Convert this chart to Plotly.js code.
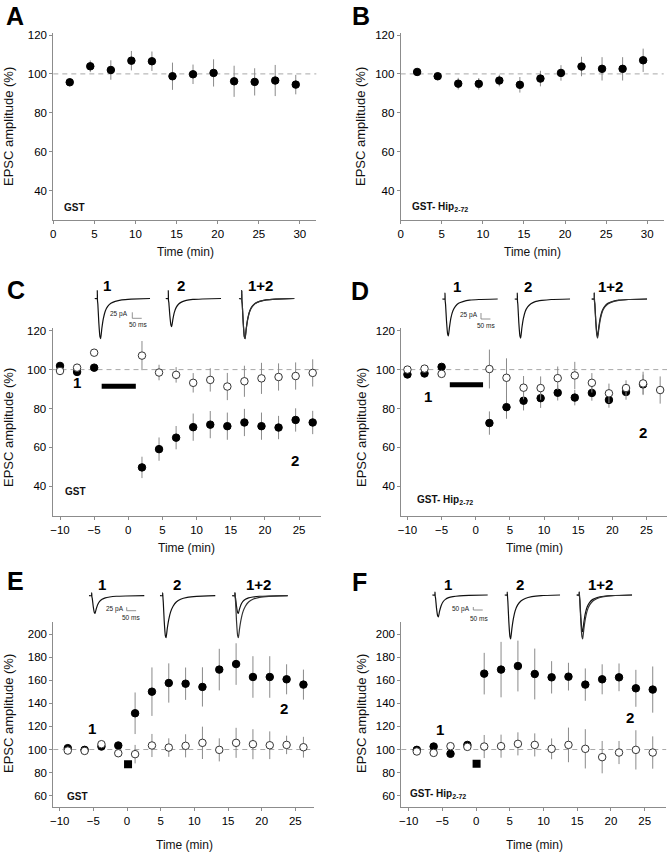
<!DOCTYPE html>
<html><head><meta charset="utf-8">
<script src="https://cdn.plot.ly/plotly-3.0.1.min.js"></script>
<style>html,body{margin:0;padding:0;background:#fff}#chart{width:667px;height:852px}</style>
</head><body><div id="chart"></div>
<script>
// ---------------- DATA ----------------
// Panels A, B
const timeAB = [2, 4.5, 7, 9.5, 12, 14.5, 17, 19.5, 22, 24.5, 27, 29.5];
const ampA   = [95.7, 103.9, 102, 106.8, 106.5, 98.8, 99.8, 100.5, 96.2, 95.9, 96.6, 94.5];
const errA   = [2, 3, 5, 5, 5, 7, 5, 7, 8, 7, 8, 5];
const ampB   = [101, 98.8, 95, 94.9, 96.6, 94.4, 97.6, 100.5, 103.8, 102.6, 102.6, 107];
const errB   = [1.5, 1.5, 3, 3, 3, 4, 4, 4, 5, 6, 6, 6];

// Panels C, D
const timeCD      = [-10, -7.5, -5, 2, 4.5, 7, 9.5, 12, 14.5, 17, 19.5, 22, 24.5, 27];
const ampCFilled  = [101.9, 98.8, 101, 49.7, 59.1, 65, 70.4, 71.7, 70.9, 72.8, 70.9, 70.2, 74.1, 72.8];
const errCFilled  = [1, 1, 1, 5.5, 6, 6, 7, 7, 7, 7, 7, 6, 6, 6];
const ampCOpen    = [99.3, 101, 108.7, 107.2, 98.5, 97.3, 93.2, 94.7, 91.3, 94, 95.5, 96.2, 96.7, 98.3];
const errCOpen    = [1, 1, 1, 7.5, 4, 4, 5, 6, 7, 8, 8, 7, 7, 7];
const timeDFilled = [-10, -7.5, -5, 2, 4.5, 7, 9.5, 12, 14.5, 17, 19.5, 22, 24.5];
const ampDFilled  = [97.5, 98, 101.4, 72.5, 80.7, 84, 85.3, 88.1, 85.6, 88, 84.4, 88.5, 92.4];
const errDFilled  = [1, 1, 1, 6, 6, 5, 5, 4, 4, 4, 4, 4, 5];
const ampDOpen    = [100, 100.5, 97.8, 100.3, 95.8, 90.7, 90.5, 95.6, 97, 93.2, 87.8, 90.5, 92.9, 89.5];
const errDOpen    = [1, 1, 1, 10, 10, 6, 6, 6, 7, 5, 5, 4, 6, 7];
const drugTimeC = [-3.9, 1.1], drugLevelC = [91.4, 91.4];
const drugTimeD = [-3.8, 1.07], drugLevelD = [92.2, 92.2];

// Panels E, F
const timeEF     = [-8.8, -6.3, -3.8, -1.3, 1.2, 3.7, 6.2, 8.7, 11.2, 13.7, 16.2, 18.7, 21.2, 23.7, 26.2];
const ampEFilled = [101.2, 99.7, 102.6, 103.5, 131.4, 150.1, 157.6, 157, 154.2, 169.2, 174, 162.8, 162.8, 160.8, 156.2];
const errEFilled = [1.5, 1.5, 1.5, 1.5, 18, 21, 17, 14, 17, 18, 18, 18, 18, 13, 13];
const ampEOpen   = [99.1, 98.8, 104.6, 96.8, 96, 103.5, 101.7, 103.2, 105.8, 99.7, 105.8, 104.6, 103.7, 104, 102];
const errEOpen   = [1.5, 1.5, 1.5, 1.5, 8, 10, 8, 10, 14, 10, 13, 13, 12, 8, 9];
const ampFFilled = [99.7, 102.6, 96.3, 104, 165.7, 169.2, 172.3, 165.4, 162.5, 163.1, 156.2, 160.8, 162.5, 153, 151.9];
const errFFilled = [3, 1.5, 1.5, 1.5, 18, 24, 22, 22, 14, 12, 14, 13, 12, 16, 20];
const ampFOpen   = [98.3, 97.1, 102.9, 102.3, 102.6, 102.9, 104.9, 104, 100.6, 104, 100.6, 93.4, 97.4, 99.7, 97.4];
const errFOpen   = [3, 3, 1.5, 1.5, 10, 10, 10, 10, 9, 15, 17, 14, 10, 17, 14];
const stimTimeE = [0.15], stimLevelE = [87.3];
const stimTimeF = [0.07], stimLevelF = [87.6];

// Tick labels
const ticksAB_x = [0, 5, 10, 15, 20, 25, 30];
const ticksCDEF_x = [-10, -5, 0, 5, 10, 15, 20, 25];
const ticksABCD_y = [40, 60, 80, 100, 120];
const ticksEF_y = [60, 80, 100, 120, 140, 160, 180, 200];

// Example EPSC traces (time in ms, current in pA)
const epscTime = [-15, -1, 0, 1, 3, 8, 14, 18, 24, 32, 42, 55, 72, 95, 130, 180, 280];
const traceC1  = [0, 0, 33, -8, -25, -100, -159, -167, -125, -84, -53, -33, -20, -12, -6, -3, 0];
const traceC2  = [0, 0, 33, -8, -18, -70, -111, -117, -88, -58, -37, -23, -14, -8, -4, -2, 0];
const traceC12 = [0, 0, 33, -8, -25, -100, -160, -167, -128, -87, -55, -35, -21, -12, -6, -3, 0];
const traceD1  = [0, 0, 25, -8, -23, -92, -146, -154, -116, -77, -49, -31, -18, -11, -5, -2, 0];
const traceD2  = [0, 0, 25, -8, -24, -98, -155, -163, -122, -82, -52, -33, -20, -11, -6, -2, 0];
const traceD12 = [0, 0, 25, -8, -24, -98, -155, -163, -125, -85, -54, -34, -21, -12, -6, -2, 0];
const traceE1  = [0, 0, 21, -8, -19, -75, -119, -125, -94, -62, -40, -25, -15, -9, -4, -2, 0];
const traceE2  = [0, 0, 21, -8, -45, -179, -283, -298, -235, -170, -115, -75, -45, -25, -12, -5, 0];
const traceF1  = [0, 0, 50, -20, -55, -220, -349, -367, -275, -184, -117, -73, -44, -26, -13, -5, 0];
const traceF2  = [0, 0, 50, -20, -110, -440, -696, -733, -570, -400, -260, -165, -100, -58, -28, -10, 0];
const traceF12 = [0, 0, 50, -20, -92, -367, -581, -612, -459, -306, -196, -122, -73, -43, -21, -8, 0];
const scaleBarPA_CDE = 25, scaleBarPA_F = 50, scaleBarMs = 50;

// ---------------- LAYOUT HELPERS ----------------
const W = 667, H = 852;
const px = p => p / W;
const py = p => 1 - p / H;
const FONT = 'Liberation Sans, Arial, sans-serif';

const panels = [
  {xd:[53.3,316.3],  yd:[219.8,33.05], xr:[0,32],        yr:[25,121],    xt:ticksAB_x,   yt:ticksABCD_y},
  {xd:[400.7,663.7], yd:[219.8,33.05], xr:[0,32],        yr:[25,121],    xt:ticksAB_x,   yt:ticksABCD_y},
  {xd:[52.5,320.9],  yd:[516.4,327.8], xr:[-11.1,28.2],  yr:[24.5,121.5],xt:ticksCDEF_x, yt:ticksABCD_y},
  {xd:[401.3,667],   yd:[516.4,327.8], xr:[-10.9,28],    yr:[24.5,121.5],xt:ticksCDEF_x, yt:ticksABCD_y},
  {xd:[53.3,314.2],  yd:[806.7,621.9], xr:[-10.95,27.8], yr:[50.5,210.5],xt:ticksCDEF_x, yt:ticksEF_y},
  {xd:[401.3,666.2], yd:[806.7,621.9], xr:[-11.1,28.2],  yr:[50.5,210.5],xt:ticksCDEF_x, yt:ticksEF_y}
];

const layout = {
  width: W, height: H,
  margin: {l:0, r:0, t:0, b:0},
  paper_bgcolor: '#fff', plot_bgcolor: 'rgba(0,0,0,0)',
  showlegend: false,
  font: {family: FONT, color: '#111'},
  shapes: [], annotations: []
};

const axName = (k, i) => k + 'axis' + (i === 1 ? '' : i);
const ref = (k, i) => k + (i === 1 ? '' : i);

panels.forEach((p, idx) => {
  const i = idx + 1;
  layout[axName('x', i)] = {
    domain: [px(p.xd[0]), px(p.xd[1])], range: p.xr, anchor: ref('y', i),
    showline: true, linecolor: '#8c8c8c', linewidth: 1,
    ticks: 'outside', ticklen: 3, tickcolor: '#8c8c8c', tickvals: p.xt,
    showgrid: false, zeroline: false, fixedrange: true,
    tickfont: {family: FONT, size: 11.5, color: '#000'}
  };
  layout[axName('y', i)] = {
    domain: [py(p.yd[0]), py(p.yd[1])], range: p.yr, anchor: ref('x', i),
    showline: true, linecolor: '#8c8c8c', linewidth: 1,
    ticks: 'outside', ticklen: 3, tickcolor: '#8c8c8c', tickvals: p.yt,
    showgrid: false, zeroline: false, fixedrange: true,
    tickfont: {family: FONT, size: 11.5, color: '#000'}
  };
  layout.shapes.push({type:'line', xref: ref('x', i) + ' domain', yref: ref('y', i),
    x0: 0, x1: 1, y0: 100, y1: 100, line: {color:'#a8a8a8', width:1, dash:'5px,4px'}, layer:'below'});
});

const traces = [];
function series(i, x, y, err, filled) {
  traces.push({
    type: 'scatter', mode: 'markers', x: x, y: y,
    xaxis: ref('x', i), yaxis: ref('y', i), hoverinfo: 'skip', cliponaxis: false,
    marker: {symbol: 'circle', size: 7.5, color: filled ? '#000' : '#fff',
             line: {color: filled ? '#000' : '#333', width: 1}},
    error_y: {type: 'data', array: err, visible: true, color: '#8a8a8a', thickness: 1, width: 0}
  });
}
series(1, timeAB, ampA, errA, true);
series(2, timeAB, ampB, errB, true);
series(3, timeCD, ampCFilled, errCFilled, true);
series(3, timeCD, ampCOpen, errCOpen, false);
series(4, timeDFilled, ampDFilled, errDFilled, true);
series(4, timeCD, ampDOpen, errDOpen, false);
series(5, timeEF, ampEFilled, errEFilled, true);
series(5, timeEF, ampEOpen, errEOpen, false);
series(6, timeEF, ampFFilled, errFFilled, true);
series(6, timeEF, ampFOpen, errFOpen, false);

// drug application bars
[[3, drugTimeC, drugLevelC], [4, drugTimeD, drugLevelD]].forEach(([i, x, y]) => {
  traces.push({type:'scatter', mode:'lines', x:x, y:y, xaxis:ref('x',i), yaxis:ref('y',i),
    hoverinfo:'skip', line:{color:'#000', width:5}});
});
[[5, stimTimeE, stimLevelE], [6, stimTimeF, stimLevelF]].forEach(([i, x, y]) => {
  traces.push({type:'scatter', mode:'markers', x:x, y:y, xaxis:ref('x',i), yaxis:ref('y',i),
    hoverinfo:'skip', marker:{symbol:'square', size:8, color:'#000'}});
});

// ---------------- INSETS ----------------
const MS_PER_PX = 5.3;
const insets = [
  {arts:[97.3,168.3,241.7], base:298.5, scale:4.17, waves:[[traceC1],[traceC2],[traceC1,traceC12]],
   bar:{pa:scaleBarPA_CDE, x:185.5, y:-82.6}, labPA:'25 pA', tPA:[130,314], tMS:[138.3,324.5],
   labs:[[106.7,'1'],[180.7,'2'],[260,'1+2']], labY:285.7},
  {arts:[445,517.3,594.3], base:299, scale:4.17, waves:[[traceD1],[traceD2],[traceD1,traceD12]],
   bar:{pa:scaleBarPA_CDE, x:190.8, y:-83.4}, labPA:'25 pA', tPA:[480,315.5], tMS:[485.7,325],
   labs:[[456.7,'1'],[528.3,'2'],[610,'1+2']], labY:286.7},
  {arts:[91.7,162.7,235], base:595.7, scale:7.1, waves:[[traceE1],[traceE2],[traceE1,traceE2]],
   bar:{pa:scaleBarPA_CDE, x:185.5, y:-106.5}, labPA:'25 pA', tPA:[125.5,609], tMS:[131,617.7],
   labs:[[101.7,'1'],[176.7,'2'],[258.3,'1+2']], labY:584.3},
  {arts:[435,507.3,579.3], base:595, scale:16.7, waves:[[traceF1],[traceF2],[traceF12,traceF2]],
   bar:{pa:scaleBarPA_F, x:203, y:-250.5}, labPA:'50 pA', tPA:[472,608.5], tMS:[479.3,618.3],
   labs:[[448.3,'1'],[520,'2'],[600,'1+2']], labY:584.3}
];
let axi = 7;
insets.forEach(ins => {
  ins.arts.forEach((art, k) => {
    const x0 = art - 15 / MS_PER_PX, x1 = art + 280 / MS_PER_PX;
    const yTop = ins.base - 12, yBot = ins.base + 45;
    layout[axName('x', axi)] = {domain:[px(x0), px(x1)], range:[-15,280], anchor:ref('y',axi), visible:false, fixedrange:true};
    layout[axName('y', axi)] = {domain:[py(yBot), py(yTop)], range:[-45*ins.scale, 12*ins.scale], anchor:ref('x',axi), visible:false, fixedrange:true};
    ins.waves[k].forEach((w, j) => {
      traces.push({type:'scatter', mode:'lines', x:epscTime, y:w, xaxis:ref('x',axi), yaxis:ref('y',axi),
        hoverinfo:'skip', cliponaxis:false, line:{color: j === 0 ? '#111' : '#333', width:1.2, shape:'spline', smoothing:0.4}});
    });
    if (k === 0) {
      const b = ins.bar;
      traces.push({type:'scatter', mode:'lines',
        x:[b.x, b.x, b.x + scaleBarMs], y:[b.y + b.pa, b.y, b.y],
        xaxis:ref('x',axi), yaxis:ref('y',axi), hoverinfo:'skip', cliponaxis:false,
        line:{color:'#777', width:0.8}});
    }
    axi++;
  });
  layout.annotations.push({xref:'paper', yref:'paper', x:px(ins.tPA[0]), y:py(ins.tPA[1]), text:ins.labPA,
    showarrow:false, xanchor:'right', yanchor:'middle', font:{family:FONT, size:6.5, color:'#222'}});
  layout.annotations.push({xref:'paper', yref:'paper', x:px(ins.tMS[0]), y:py(ins.tMS[1]), text:'50 ms',
    showarrow:false, xanchor:'center', yanchor:'middle', font:{family:FONT, size:6.5, color:'#222'}});
  ins.labs.forEach(([x, t]) => {
    layout.annotations.push({xref:'paper', yref:'paper', x:px(x), y:py(ins.labY), text:'<b>'+t+'</b>',
      showarrow:false, xanchor:'center', yanchor:'middle', font:{family:FONT, size:15, color:'#000'}});
  });
});

// ---------------- TEXT ----------------
function ann(x, y, text, opt) {
  layout.annotations.push(Object.assign({xref:'paper', yref:'paper', x:px(x), y:py(y), text:text,
    showarrow:false, xanchor:'center', yanchor:'middle', font:{family:FONT, size:12, color:'#111'}}, opt || {}));
}
// panel letters
[['A',15,16],['B',361,16],['C',16,290],['D',360,291],['E',15,581],['F',359,582]].forEach(([t,x,y]) =>
  ann(x, y, '<b>'+t+'</b>', {font:{family:FONT, size:25, color:'#000'}}));
// y titles
[[9,127],[361,127],[8,428],[361,428],[8,714],[361,714]].forEach(([x,y]) =>
  ann(x, y, 'EPSC amplitude (%)', {textangle:-90, font:{family:FONT, size:13, color:'#111'}}));
// x titles
[[185,252],[532,252],[186,548],[534,548],[184,845],[534,845]].forEach(([x,y]) =>
  ann(x, y, 'Time (min)', {font:{family:FONT, size:12, color:'#111'}}));
// condition labels
[[62,208,'GST'],[410,207,'GST- Hip<sub>2-72</sub>'],[63,491,'GST'],[415,500,'GST- Hip<sub>2-72</sub>'],
 [65,796,'GST'],[408,794,'GST- Hip<sub>2-72</sub>']].forEach(([x,y,t]) =>
  ann(x, y, '<b>'+t+'</b>', {xanchor:'left', font:{family:FONT, size:10, color:'#111'}}));
// "1" / "2" labels inside plots
[[3,-7.5,93.3,'1'],[3,24.4,53.1,'2'],[4,-7.06,86.4,'1'],[4,24.5,67.8,'2'],
 [5,-5.15,118.4,'1'],[5,23.3,135.2,'2'],[6,-5.4,117,'1'],[6,22.8,127.4,'2']].forEach(([i,x,y,t]) =>
  layout.annotations.push({xref:ref('x',i), yref:ref('y',i), x:x, y:y, text:'<b>'+t+'</b>', showarrow:false,
    xanchor:'center', yanchor:'middle', font:{family:FONT, size:15, color:'#000'}}));

Plotly.newPlot('chart', traces, layout, {staticPlot:true, displayModeBar:false});
</script></body></html>
